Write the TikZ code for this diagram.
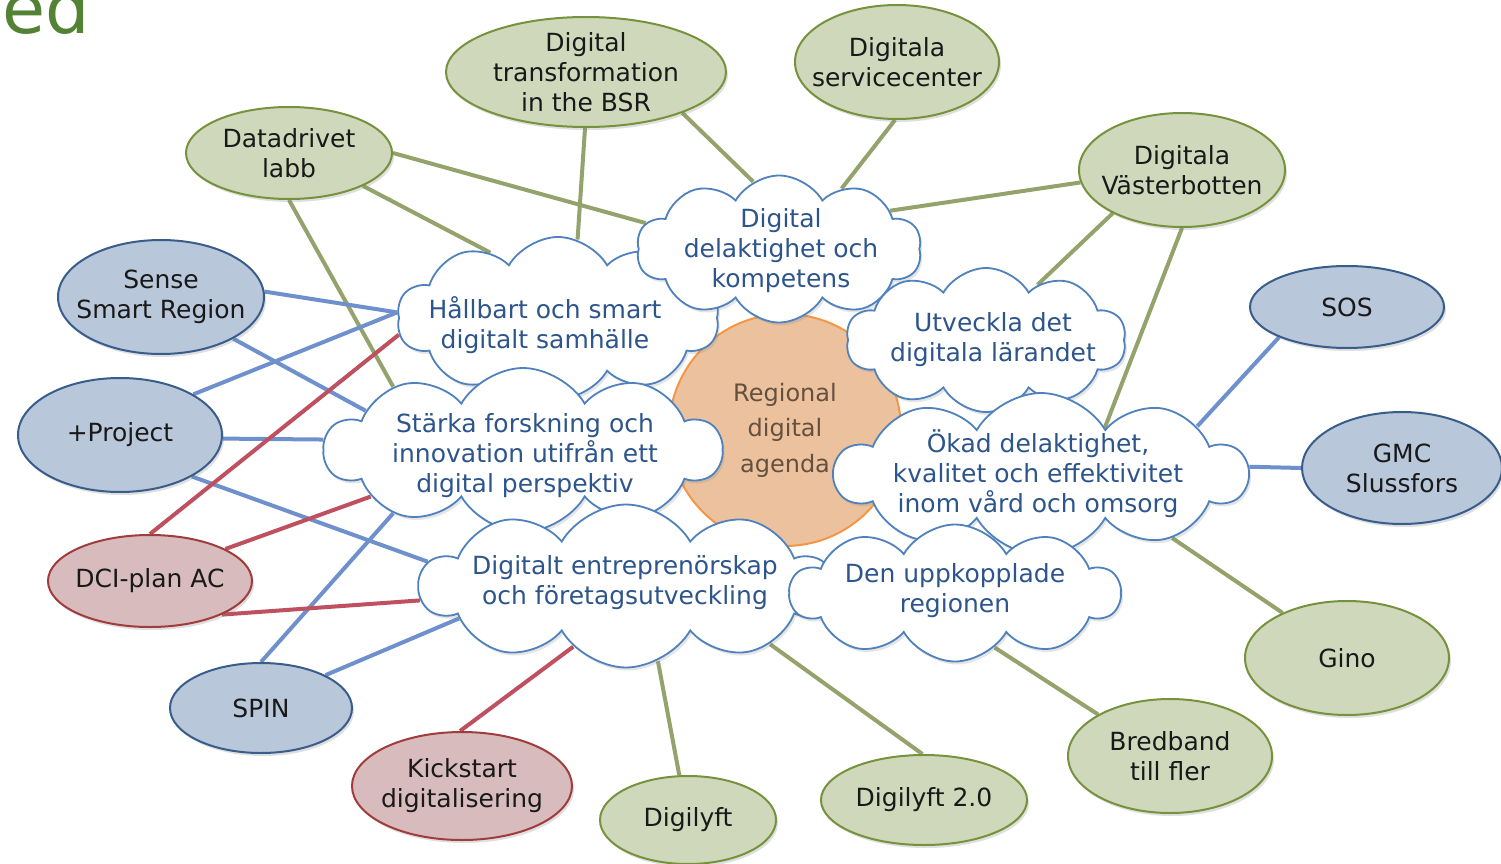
\documentclass[tikz,border=0pt]{standalone}
\usepackage{fontspec}
\setmainfont{DejaVu Sans}
\usetikzlibrary{shapes.geometric,shapes.symbols,shadows}
\definecolor{gfill}{RGB}{208,216,188}
\definecolor{gdraw}{RGB}{118,146,60}
\definecolor{bfill}{RGB}{185,199,218}
\definecolor{bdraw}{RGB}{56,93,138}
\definecolor{rfill}{RGB}{216,188,189}
\definecolor{rdraw}{RGB}{160,60,60}
\definecolor{gline}{RGB}{148,163,108}
\definecolor{bline}{RGB}{110,145,205}
\definecolor{rline}{RGB}{190,80,95}
\definecolor{cldraw}{RGB}{79,129,189}
\definecolor{cltext}{RGB}{45,85,140}
\definecolor{ofill}{RGB}{236,194,158}
\definecolor{odraw}{RGB}{245,150,70}
\definecolor{otext}{RGB}{100,80,62}
\definecolor{titlegreen}{RGB}{84,130,53}
\pgfdeclarelayer{bg}
\pgfsetlayers{bg,main}
\tikzset{
  base/.style={font=\fontsize{25}{30}\selectfont, align=center},
  ell/.style={base, ellipse, line width=2pt, inner xsep=-40pt, inner ysep=-20pt, text=black!90,
    drop shadow={opacity=0.25, shadow xshift=2pt, shadow yshift=-3pt}},
  gnode/.style={ell, fill=gfill, draw=gdraw},
  bnode/.style={ell, fill=bfill, draw=bdraw},
  rnode/.style={ell, fill=rfill, draw=rdraw},
  cl/.style={cloud, cloud puffs=10, cloud puff arc=120, cloud ignores aspect,
    draw=cldraw, fill=white, line width=1.8pt, inner sep=0pt,
    drop shadow={opacity=0.2, shadow xshift=2pt, shadow yshift=-3pt}},
  cltxt/.style={base, text=cltext},
  gl/.style={line width=4pt, draw=gline},
  bl/.style={line width=4pt, draw=bline},
  rl/.style={line width=4pt, draw=rline},
}
\begin{document}
\begin{tikzpicture}[x=1pt,y=-1pt]
\useasboundingbox (0,0) rectangle (1501,864);
\begin{pgfonlayer}{bg}
\fill[white] (0,0) rectangle (1501,864);
\end{pgfonlayer}

\node[anchor=base east, inner sep=0pt, text=titlegreen, font=\fontsize{70}{78}\selectfont] (title) at (90,34) {ed};

% centre
\node[circle, minimum size=232pt, fill=ofill, draw=odraw, line width=2pt, text=otext,
  font=\fontsize{24}{35.5}\selectfont, align=center] (ctr) at (785,430) {Regional\\digital\\agenda};

% clouds
\node[cl, minimum width=322pt, minimum height=162pt] (hs) at (558,318) {};
\node[cltxt] (hst) at (545,325) {Hållbart och smart\\digitalt samhälle};
\node[cl, minimum width=285pt, minimum height=147pt] (dd) at (779,249) {};
\node[cltxt] (ddt) at (781,251) {Digital\\delaktighet och\\kompetens};
\node[cl, minimum width=280pt, minimum height=144pt] (ut) at (986,340) {};
\node[cltxt] (utt) at (993,340) {Utveckla det\\digitala lärandet};
\node[cl, minimum width=397pt, minimum height=164pt] (st) at (523,450) {};
\node[cltxt] (stt) at (525,456) {Stärka forskning och\\innovation utifrån ett\\digital perspektiv};
\node[cl, minimum width=412pt, minimum height=162pt] (ok) at (1041,474) {};
\node[cltxt] (okt) at (1038,474) {Ökad delaktighet,\\kvalitet och effektivitet\\inom vård och omsorg};
\node[cl, minimum width=412pt, minimum height=163pt] (de) at (626,586) {};
\node[cltxt] (det) at (625,583) {Digitalt entreprenörskap\\och företagsutveckling};
\node[cl, minimum width=330pt, minimum height=137pt] (du) at (955,593) {};
\node[cltxt] (dut) at (955,591) {Den uppkopplade\\regionen};

% ellipses
\node[gnode, minimum width=206pt, minimum height=92pt] (dlabb) at (289,153) {Datadrivet\\labb};
\node[gnode, minimum width=280pt, minimum height=110pt] (dtrans) at (586,72) {Digital\\transformation\\in the BSR};
\node[gnode, minimum width=204pt, minimum height=114pt] (dserv) at (897,62) {Digitala\\servicecenter};
\node[gnode, minimum width=206pt, minimum height=114pt] (dvast) at (1182,170) {Digitala\\Västerbotten};
\node[bnode, minimum width=206pt, minimum height=114pt] (sense) at (161,297) {Sense\\Smart Region};
\node[bnode, minimum width=204pt, minimum height=114pt] (proj) at (120,435) {+Project};
\node[rnode, minimum width=204pt, minimum height=92pt] (dci) at (150,581) {DCI-plan AC};
\node[bnode, minimum width=182pt, minimum height=90pt] (spin) at (261,708) {SPIN};
\node[rnode, minimum width=220pt, minimum height=108pt] (kick) at (462,786) {Kickstart\\digitalisering};
\node[gnode, minimum width=176pt, minimum height=88pt] (dlyft) at (688,820) {Digilyft};
\node[gnode, minimum width=206pt, minimum height=90pt] (dl2) at (924,800) {Digilyft 2.0};
\node[gnode, minimum width=204pt, minimum height=114pt] (bred) at (1170,756) {Bredband\\till fler};
\node[gnode, minimum width=204pt, minimum height=114pt] (gino) at (1347,658) {Gino};
\node[bnode, minimum width=200pt, minimum height=112pt] (gmc) at (1402,468) {GMC\\Slussfors};
\node[bnode, minimum width=194pt, minimum height=82pt] (sos) at (1347,307) {SOS};

% connectors
\begin{pgfonlayer}{bg}
\draw[gl] (dlabb.0) -- (dd.169);
\draw[gl] (dlabb.-24) -- (hs.136);
\draw[gl] (dlabb.-90) -- (st.154);
\draw[gl] (dtrans.-91) -- (hs.76);
\draw[gl] (dtrans.-23) -- (dd.111);
\draw[gl] (dserv.-92) -- (dd.44);
\draw[gl] (dvast.187) -- (dd.19);
\draw[gl] (dvast.212) -- (ut.47);
\draw[gl] (dvast.-90) -- (ok.36);
\draw[gl] (gino.145) -- (ok.-26);
\draw[gl] (bred.150) -- (du.-54);
\draw[gl] (dl2.92) -- (de.-22);
\draw[gl] (dlyft.101) -- (de.-67);
\draw[bl] (sense.3) -- (hs.178);
\draw[bl] (sense.-30) -- (st.166);
\draw[bl] (proj.29) -- (hs.178);
\draw[bl] (proj.-2) -- (st.177);
\draw[bl] (proj.-30) -- (de.173);
\draw[bl] (spin.90) -- (st.206);
\draw[bl] (spin.27) -- (de.191);
\draw[bl] (sos.204) -- (ok.17);
\draw[bl] (gmc.180) -- (ok.2);
\draw[rl] (dci.90) -- (hs.186);
\draw[rl] (dci.23) -- (st.197);
\draw[rl] (dci.-25) -- (de.184);
\draw[rl] (kick.92) -- (de.229);
\end{pgfonlayer}
\end{tikzpicture}
\end{document}
